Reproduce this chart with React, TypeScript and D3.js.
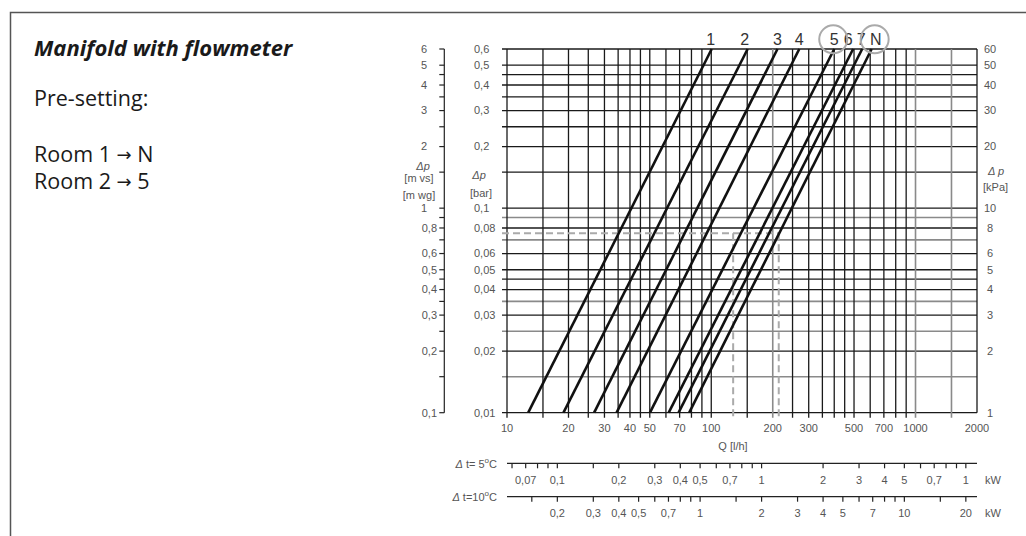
import React from 'react';
import * as d3 from 'd3';

// pre-setting curves: flow (l/h) where each line meets 0.01 bar and 0.6 bar
const curveNames = ['1', '2', '3', '4', '5', '6', '7', 'N'];
const flowAtLowDp = [12.7, 18.9, 26.7, 34.4, 50.1, 61.9, 69.2, 78.0];
const flowAtHighDp = [100.5, 150.7, 211, 269.7, 400, 495, 548, 610];
const circledCurves = ['5', 'N'];

// grid
const flowGrid = [10, 15, 20, 25, 30, 35, 40, 45, 50, 60, 70, 80, 90, 100, 150, 200, 250, 300, 350, 400, 450, 500, 600, 700, 800, 900, 1000, 1500, 2000];
const dpGrid = [0.01, 0.015, 0.02, 0.025, 0.03, 0.035, 0.04, 0.045, 0.05, 0.06, 0.07, 0.08, 0.09, 0.1, 0.15, 0.2, 0.25, 0.3, 0.35, 0.4, 0.45, 0.5, 0.6];

// tick labels
const flowLabels = [10, 20, 30, 40, 50, 70, 100, 200, 300, 500, 700, 1000, 2000];
const barLabels = [0.6, 0.5, 0.4, 0.3, 0.2, 0.1, 0.08, 0.06, 0.05, 0.04, 0.03, 0.02, 0.01];
const mwgLabels = [6, 5, 4, 3, 2, 1, 0.8, 0.6, 0.5, 0.4, 0.3, 0.2, 0.1];
const kpaLabels = [60, 50, 40, 30, 20, 10, 8, 6, 5, 4, 3, 2, 1];

// example reading (dashed)
const presetDp = 0.0754;
const roomFlows = [128, 214];
const rooms = [['Room 1', 'N'], ['Room 2', '5']];

// heat output scales
const kwPerFlow5 = 0.00567;
const kwPerFlow10 = 0.01134;
const kw5Ticks = [0.06, 0.07, 0.08, 0.09, 0.1, 0.15, 0.2, 0.3, 0.4, 0.5, 0.6, 0.7, 0.8, 0.9, 1, 2, 3, 4, 5, 6, 7, 8, 9, 10];
const kw5Values = [0.07, 0.1, 0.2, 0.3, 0.4, 0.5, 0.7, 1, 2, 3, 4, 5, 7, 10];
const kw5Texts = ['0,07', '0,1', '0,2', '0,3', '0,4', '0,5', '0,7', '1', '2', '3', '4', '5', '0,7', '1'];
const kw10Ticks = [0.15, 0.2, 0.3, 0.4, 0.5, 0.6, 0.7, 0.8, 0.9, 1, 1.5, 2, 3, 4, 5, 6, 7, 8, 9, 10, 15, 20];
const kw10Values = [0.2, 0.3, 0.4, 0.5, 0.7, 1, 2, 3, 4, 5, 7, 10, 20];
const kw10Texts = ['0,2', '0,3', '0,4', '0,5', '0,7', '1', '2', '3', '4', '5', '7', '10', '20'];

const fmt = (v: number) => String(v).replace('.', ',');

export default function App() {
  const W = 1026, H = 536;
  const x = d3.scaleLog().domain([10, 2000]).range([507, 977]);
  const y = d3.scaleLog().domain([0.01, 0.6]).range([412.7, 49]);
  const x5 = (kw: number) => x(kw / kwPerFlow5);
  const x10 = (kw: number) => x(kw / kwPerFlow10);

  const faintFlow = new Set([200, 1000, 1500]);
  const faintDp = new Set([0.015, 0.025, 0.035, 0.07, 0.09]);
  const labelNudge: Record<string, number> = { '1': -1, '2': -3, '6': -5, '7': -1, 'N': 4 };

  const line = d3.line<[number, number]>().x(d => x(d[0])).y(d => y(d[1]));
  const tickFont = { fontFamily: '"Liberation Sans", Arial, sans-serif', fontSize: 11, fill: '#555' };
  const panelFont = { fontFamily: '"Open Sans", sans-serif', fill: '#1a1a1a' };

  const axisM = 444.3;
  const row5 = 463.3, row10 = 496.7;

  return (
    <svg width={W} height={H} style={{ position: 'absolute', left: 0, top: 0, background: '#fff' }}>
      {/* frame */}
      <path d={`M10.5,${H} V12.5 H${W}`} fill="none" stroke="#555" strokeWidth={1.5} />

      {/* text panel */}
      <text x={34} y={56} {...panelFont} fontSize={22} fontWeight="bold" fontStyle="italic">Manifold with flowmeter</text>
      <text x={34} y={106} {...panelFont} fontSize={21.5}>Pre-setting:</text>
      <text {...panelFont} fontSize={21.5}>
        {rooms.map((r, i) => (
          <tspan key={r[0]} x={34} y={162 + i * 26.5}>
            {r[0] + ' '}
            <tspan fontFamily='"DejaVu Sans", sans-serif' fontSize={18} dy={-1}>→</tspan>
            <tspan dy={1}>{' ' + r[1]}</tspan>
          </tspan>
        ))}
      </text>

      {/* grid */}
      <g>
        {dpGrid.map(v => (
          <line key={'h' + v} x1={502} x2={977} y1={y(v)} y2={y(v)}
            stroke={faintDp.has(v) ? '#8a8a8a' : '#1a1a1a'} strokeWidth={faintDp.has(v) ? 1.6 : 1.3} />
        ))}
        {flowGrid.map(v => (
          <line key={'v' + v} x1={x(v)} x2={x(v)} y1={y(0.6)} y2={v === 2000 ? y(0.01) : 417.7}
            stroke={faintFlow.has(v) ? '#8a8a8a' : '#1a1a1a'} strokeWidth={faintFlow.has(v) ? 1.6 : 1.3} />
        ))}
      </g>

      {/* example reading */}
      <g stroke="#aaa" strokeWidth={2} strokeDasharray="7,4" fill="none">
        <line x1={502} x2={x(roomFlows[1])} y1={y(presetDp)} y2={y(presetDp)} />
        {roomFlows.map(q => (
          <line key={q} x1={x(q)} x2={x(q)} y1={y(presetDp)} y2={417.7} />
        ))}
      </g>

      {/* pre-setting curves */}
      <g>
        {curveNames.map((n, i) => (
          <path key={n} d={line([[flowAtLowDp[i], 0.01], [flowAtHighDp[i], 0.6]]) || ''}
            fill="none" stroke="#111" strokeWidth={2.6} />
        ))}
        {curveNames.map((n, i) => (
          <text key={'l' + n} x={x(flowAtHighDp[i]) + (labelNudge[n] || 0)} y={45}
            textAnchor="middle" fontFamily='"Liberation Sans", Arial, sans-serif' fontSize={16} fill="#333">{n}</text>
        ))}
        {curveNames.map((n, i) => circledCurves.includes(n) ? (
          <circle key={'c' + n} cx={x(flowAtHighDp[i]) + (labelNudge[n] || 0) - 1} cy={39.3} r={14}
            fill="none" stroke="#aaa" strokeWidth={2} />
        ) : null)}
      </g>

      {/* bar axis labels */}
      <g {...tickFont} textAnchor="start">
        {barLabels.map(v => (
          <text key={v} x={474} y={y(v)} dy="0.35em">{fmt(v)}</text>
        ))}
      </g>
      <text x={479} y={179} {...tickFont} textAnchor="middle" fontStyle="italic">Δp</text>
      <text x={481} y={197} {...tickFont} textAnchor="middle">[bar]</text>

      {/* m water column axis */}
      <line x1={axisM} x2={axisM} y1={y(0.6)} y2={y(0.01)} stroke="#222" strokeWidth={1.2} />
      {dpGrid.map(v => (
        <line key={'mt' + v} x1={axisM - 5} x2={axisM} y1={y(v)} y2={y(v)} stroke="#222" strokeWidth={1.2} />
      ))}
      <g {...tickFont}>
        {mwgLabels.map(v => (
          <text key={v} x={v >= 1 ? 424 : 437} textAnchor={v >= 1 ? 'middle' : 'end'} y={y(v / 10)} dy="0.35em">{fmt(v)}</text>
        ))}
      </g>
      <text x={423} y={170} {...tickFont} textAnchor="middle" fontStyle="italic">Δp</text>
      <text x={419} y={182} {...tickFont} textAnchor="middle">[m vs]</text>
      <text x={419} y={199} {...tickFont} textAnchor="middle">[m wg]</text>

      {/* kPa axis */}
      <g {...tickFont} textAnchor="middle">
        {kpaLabels.map(v => (
          <text key={v} x={990} y={y(v / 100)} dy="0.35em">{v}</text>
        ))}
      </g>
      <text x={988} y={175} {...tickFont} fontStyle="italic">Δ p</text>
      <text x={983} y={191} {...tickFont}>[kPa]</text>

      {/* flow axis */}
      <g {...tickFont} textAnchor="middle">
        {flowLabels.map(v => (
          <text key={v} x={x(v)} y={432}>{v}</text>
        ))}
      </g>
      <text x={733} y={450} {...tickFont} textAnchor="middle">Q [l/h]</text>

      {/* heat output, Δt = 5 K */}
      <text x={497} y={468} {...tickFont} textAnchor="end">
        <tspan fontStyle="italic">Δ</tspan> t= 5<tspan fontSize={8} dy={-5}>o</tspan><tspan dy={5}>C</tspan>
      </text>
      <line x1={507} x2={977} y1={row5} y2={row5} stroke="#222" strokeWidth={1.2} />
      {kw5Ticks.map(v => (
        <line key={'t5' + v} x1={x5(v)} x2={x5(v)} y1={row5} y2={row5 + 5} stroke="#222" strokeWidth={1.2} />
      ))}
      <g {...tickFont} textAnchor="middle">
        {kw5Values.map((v, i) => (
          <text key={v} x={x5(v)} y={484}>{kw5Texts[i]}</text>
        ))}
      </g>
      <text x={985} y={484} {...tickFont}>kW</text>

      {/* heat output, Δt = 10 K */}
      <text x={497} y={501} {...tickFont} textAnchor="end">
        <tspan fontStyle="italic">Δ</tspan> t=10<tspan fontSize={8} dy={-5}>o</tspan><tspan dy={5}>C</tspan>
      </text>
      <line x1={507} x2={977} y1={row10} y2={row10} stroke="#222" strokeWidth={1.2} />
      {kw10Ticks.map(v => (
        <line key={'t10' + v} x1={x10(v)} x2={x10(v)} y1={row10} y2={row10 + 5} stroke="#222" strokeWidth={1.2} />
      ))}
      <g {...tickFont} textAnchor="middle">
        {kw10Values.map((v, i) => (
          <text key={v} x={x10(v)} y={517}>{kw10Texts[i]}</text>
        ))}
      </g>
      <text x={985} y={517} {...tickFont}>kW</text>
    </svg>
  );
}
